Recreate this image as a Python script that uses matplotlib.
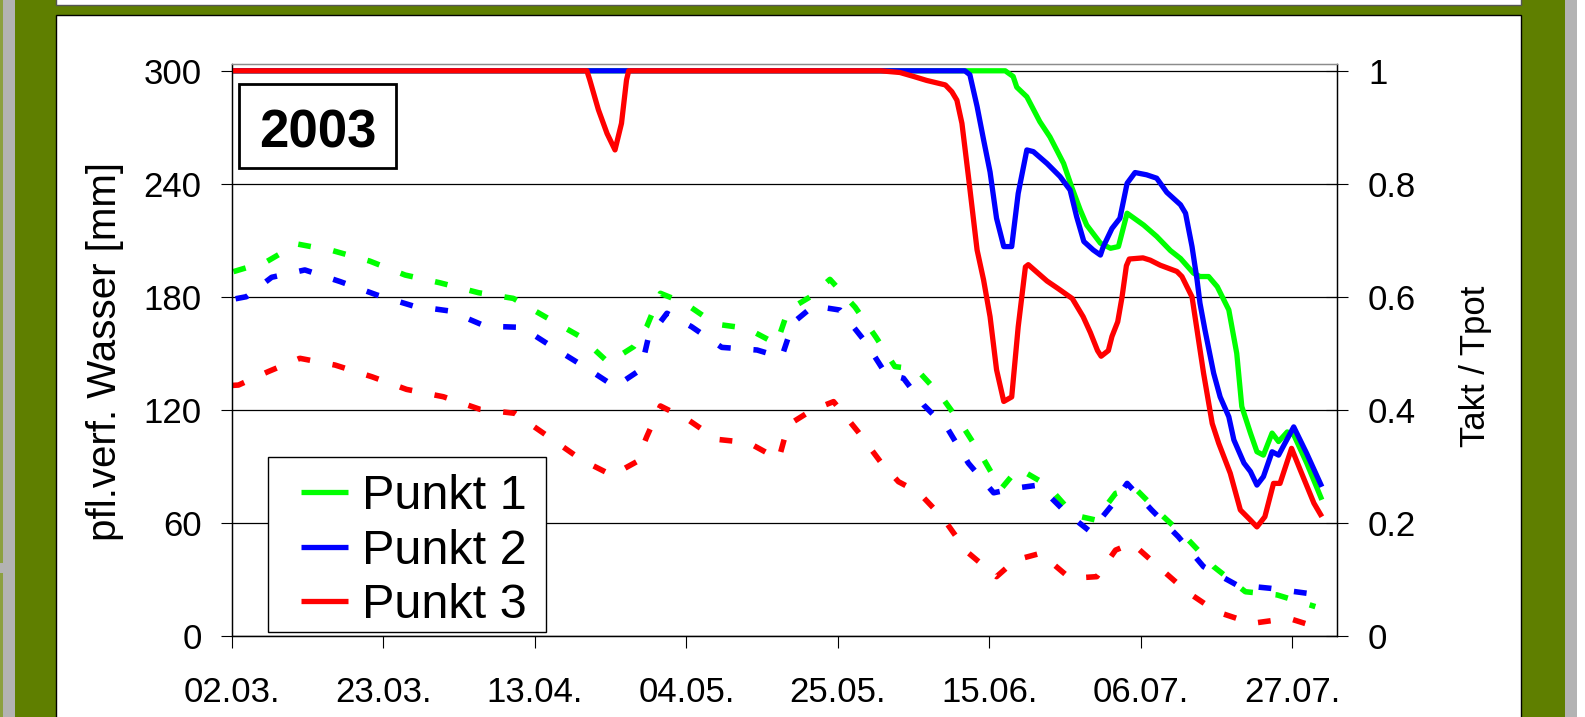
import numpy as np
import matplotlib.pyplot as plt
from matplotlib.patches import Rectangle

plt.rcParams['font.family'] = ['Liberation Sans', 'DejaVu Sans']

# x axis: days since 02.03.2003
tick_days = [0, 21, 42, 63, 84, 105, 126, 147]
tick_labels = ['02.03.', '23.03.', '13.04.', '04.05.', '25.05.', '15.06.', '06.07.', '27.07.']
left_ticks = [0, 60, 120, 180, 240, 300]
right_ticks = [0, 0.2, 0.4, 0.6, 0.8, 1.0]
right_labels = ['0', '0.2', '0.4', '0.6', '0.8', '1']
names = ['Punkt 1', 'Punkt 2', 'Punkt 3']
colors = ['#00FF00', '#0000FF', '#FF0000']

# Takt / Tpot (solid lines, right axis)
t1_day = [0, 107.2, 108.3, 108.8, 110.2, 112.0, 113.4, 115.3, 116.4, 117.6, 118.5, 120.4,
          121.8, 122.9, 124.1, 126.4, 128.2, 130.1, 131.5, 133.3, 134.2, 135.4, 136.6,
          138.2, 139.3, 140.0, 141.2, 142.1, 143.0, 144.2, 145.1, 146.3, 147.2, 149.0, 151.1]
t1_val = [1.0, 1.0, 0.99, 0.971, 0.954, 0.91, 0.883, 0.836, 0.795, 0.754, 0.727, 0.695,
          0.686, 0.689, 0.748, 0.727, 0.707, 0.682, 0.668, 0.642, 0.636, 0.636, 0.618,
          0.577, 0.5, 0.406, 0.359, 0.326, 0.32, 0.359, 0.344, 0.361, 0.356, 0.306, 0.241]

t2_day = [0, 101.6, 102.3, 103.3, 104.2, 105.1, 106.0, 107.0, 108.1, 109.0, 110.2, 111.1,
          113.0, 114.8, 116.2, 117.1, 118.1, 119.4, 120.4, 120.8, 122.0, 123.1, 124.1,
          125.2, 126.8, 128.2, 129.6, 131.5, 132.2, 133.1, 133.8, 134.2, 134.9, 136.1,
          137.0, 138.2, 138.9, 140.3, 141.2, 142.1, 143.0, 144.2, 145.1, 147.2, 149.0, 151.1]
t2_val = [1.0, 1.0, 0.993, 0.937, 0.878, 0.821, 0.739, 0.689, 0.689, 0.783, 0.86, 0.857,
          0.836, 0.813, 0.789, 0.742, 0.698, 0.683, 0.674, 0.689, 0.721, 0.739, 0.801,
          0.82, 0.816, 0.81, 0.785, 0.763, 0.748, 0.689, 0.63, 0.589, 0.541, 0.465,
          0.423, 0.388, 0.347, 0.306, 0.291, 0.267, 0.282, 0.326, 0.32, 0.37, 0.323, 0.264]

t3_day = [0, 49.2, 49.6, 50.8, 52.0, 53.1, 54.0, 54.7, 55.0, 89.9, 92.6, 94.5, 96.3, 98.9,
          99.8, 100.5, 101.2, 102.1, 103.3, 104.2, 105.1, 106.0, 107.0, 108.1, 109.0,
          110.0, 110.4, 113.0, 114.5, 116.5, 118.0, 119.0, 120.0, 120.5, 121.5, 122.0,
          122.8, 123.4, 124.0, 124.4, 126.3, 127.3, 128.7, 131.0, 131.7, 133.1, 133.8,
          134.7, 135.9, 136.8, 138.4, 139.8, 141.2, 142.1, 143.2, 144.4, 145.3, 146.9,
          148.1, 150.0, 151.1]
t3_val = [1.0, 1.0, 0.984, 0.931, 0.889, 0.86, 0.907, 0.984, 1.0, 1.0, 0.997, 0.99, 0.983,
          0.975, 0.963, 0.948, 0.907, 0.813, 0.683, 0.63, 0.565, 0.471, 0.415, 0.423, 0.547,
          0.653, 0.657, 0.628, 0.615, 0.597, 0.565, 0.537, 0.505, 0.495, 0.505, 0.53,
          0.556, 0.6, 0.655, 0.667, 0.669, 0.665, 0.656, 0.645, 0.636, 0.6, 0.541,
          0.465, 0.376, 0.341, 0.288, 0.223, 0.205, 0.193, 0.211, 0.27, 0.27, 0.332,
          0.294, 0.235, 0.211]

# pfl. verf. Wasser [mm] (dashed lines, left axis)
w1_day = [0.2, 4.8, 9.0, 14.0, 19.1, 24.0, 28.8, 34.2, 39.0, 43.4, 48.3, 52.2, 55.7, 57.5,
          59.4, 62.8, 67.0, 71.4, 75.5, 77.1, 80.2, 82.9, 86.4, 89.3, 91.9, 94.9, 98.2,
          101.2, 104.0, 106.6, 109.0, 113.0, 116.7, 119.7, 122.5, 125.2, 128.9, 132.6,
          136.1, 140.5, 144.9, 150.2]
w1_val = [193.4, 198.7, 208.1, 204.5, 199.0, 191.6, 187.5, 182.2, 179.2, 169.5, 158.9,
          145.1, 153.6, 164.2, 181.9, 176.6, 165.6, 163.3, 155.0, 173.0, 180.1, 189.3,
          174.5, 158.5, 143.0, 141.6, 127.9, 112.0, 95.2, 78.0, 89.0, 80.1, 64.2, 61.6,
          75.7, 78.4, 64.2, 51.0, 36.8, 23.5, 21.8, 15.6]

w2_day = [0.5, 2.0, 5.5, 10.1, 15.0, 20.1, 25.1, 30.2, 35.1, 40.2, 44.6, 49.2, 53.1, 56.7,
          57.7, 60.3, 63.7, 67.9, 72.8, 76.2, 77.8, 80.6, 84.3, 87.8, 90.6, 93.1, 95.9,
          99.3, 102.1, 105.6, 108.5, 111.8, 115.5, 119.0, 122.2, 124.1, 127.5, 131.2,
          134.7, 139.3, 144.0, 149.0]
w2_val = [179.0, 180.1, 190.4, 194.3, 188.1, 181.0, 175.2, 172.5, 164.5, 163.8, 153.0,
          142.1, 132.3, 141.5, 158.0, 171.3, 164.2, 153.2, 151.8, 147.9, 166.3, 175.2,
          173.0, 156.2, 139.4, 136.8, 122.6, 109.5, 91.7, 76.0, 78.4, 80.1, 66.0, 55.4,
          70.4, 81.0, 66.9, 52.7, 36.8, 27.1, 25.3, 22.7]

w3_day = [0.0, 0.9, 5.0, 9.4, 14.3, 19.4, 24.2, 29.3, 34.4, 39.2, 43.5, 48.5, 52.7, 56.1,
          57.5, 59.4, 63.3, 67.2, 71.6, 75.8, 77.1, 80.4, 83.4, 86.8, 89.9, 92.4, 95.2,
          98.6, 101.9, 106.0, 108.6, 112.1, 116.2, 119.9, 122.5, 124.8, 128.7, 132.4,
          136.5, 141.4, 146.5, 150.9]
w3_val = [133.0, 133.2, 140.3, 147.4, 143.8, 137.6, 130.9, 127.0, 120.3, 118.2, 106.8,
          93.4, 85.3, 92.5, 105.8, 122.1, 114.6, 104.4, 102.6, 93.8, 112.0, 119.9, 124.4,
          108.4, 92.5, 81.9, 76.2, 62.5, 44.7, 31.5, 40.3, 43.9, 30.6, 31.5, 45.6, 49.2,
          35.9, 23.5, 12.9, 6.7, 9.4, 4.1]

takt = [(t1_day, t1_val), (t2_day, t2_val), (t3_day, t3_val)]
water = [(w1_day, w1_val), (w2_day, w2_val), (w3_day, w3_val)]

W, H = 1585, 717
fig = plt.figure(figsize=(W / 100, H / 100), dpi=100)
fig.patch.set_facecolor('white')


def rect(x0, y0, x1, y1, **kw):
    # rectangle given in pixel coords (origin top left)
    r = Rectangle((x0 / W, 1 - y1 / H), (x1 - x0) / W, (y1 - y0) / H,
                  transform=fig.transFigure, **kw)
    fig.add_artist(r)
    return r


olive = '#5F7F00'
grey = '#B3B3B3'
rect(0, 0, 3, H, fc='#8CA040', ec='none', zorder=-10)
rect(3, 0, 15, H, fc=grey, ec='none', zorder=-10)
rect(0, 563, 3, 573, fc=grey, ec='none', zorder=-10)
rect(15, 0, 1565, H, fc=olive, ec='none', zorder=-10)
rect(1565, 0, 1577, H, fc=grey, ec='none', zorder=-10)
rect(56.5, 15, 1520.5, H + 10, fc='white', ec='black', lw=1, zorder=-9)
rect(56.5, -10, 1520.5, 4.5, fc='white', ec='#555555', lw=1, zorder=-9)

ax = fig.add_axes([232 / W, 1 - 636 / H, (1337 - 232) / W, (636 - 64) / H])
ax2 = ax.twinx()

top_frac = (636 - 64) / (636 - 70.8)
ax.set_xlim(0, 153.2)
ax.set_ylim(0, 300 * top_frac)
ax2.set_ylim(0, 1.0 * top_frac)

for (d, v), c in zip(water, colors):
    ax.plot(d, v, color=c, lw=4, linestyle=(0, (2.3, 4.1)), dash_capstyle='butt')

handles = []
for (d, v), c in zip(takt, colors):
    ln, = ax2.plot(d, v, color=c, lw=3.8, solid_joinstyle='round', solid_capstyle='butt')
    handles.append(ln)

ax.set_axisbelow(True)
ax.set_yticks(left_ticks)
ax.set_xticks(tick_days)
ax.set_xticklabels(tick_labels)
ax.yaxis.grid(True, color='black', lw=0.9)
ax2.set_yticks(right_ticks)
ax2.set_yticklabels(right_labels)

ax.tick_params(axis='x', direction='out', length=8.6, width=0.8, pad=20.5, labelsize=25)
ax.tick_params(axis='y', direction='out', length=7.9, width=0.8, pad=13.9, labelsize=25)
ax2.tick_params(axis='y', direction='inout', length=16.5, width=0.8, pad=14, labelsize=25)

for a in (ax, ax2):
    for s in a.spines.values():
        s.set_linewidth(0.9)
        s.set_color('black')
    a.spines['top'].set_color('#8C8C8C')

fig.text(105 / W, 1 - 351.5 / H, 'pfl.verf. Wasser [mm]', rotation=90,
         ha='center', va='center', fontsize=29)
fig.text(1476 / W, 1 - 366.5 / H, 'Takt / Tpot', rotation=90,
         ha='center', va='center', fontsize=25)

# legend: frameless entries plus a plain box drawn behind them
rect(268, 457, 546, 632, fc='white', ec='black', lw=1, zorder=9)
leg = ax2.legend(handles, names, loc='upper left', bbox_to_anchor=(301 / W, 1 - 474 / H),
                 bbox_transform=fig.transFigure, borderaxespad=0, fontsize=35,
                 frameon=False, handlelength=0.97, handletextpad=0.29, borderpad=0,
                 labelspacing=0.2)
leg.set_zorder(10)
leg.remove()
fig.add_artist(leg)

rect(238.5, 83.5, 396, 168, fill=False, ec='black', lw=2, zorder=10)
fig.text(317.5 / W, 1 - 148 / H, '2003', fontsize=38, fontweight='bold',
         ha='center', va='baseline', zorder=11)

fig.savefig('out.png', dpi=100)
